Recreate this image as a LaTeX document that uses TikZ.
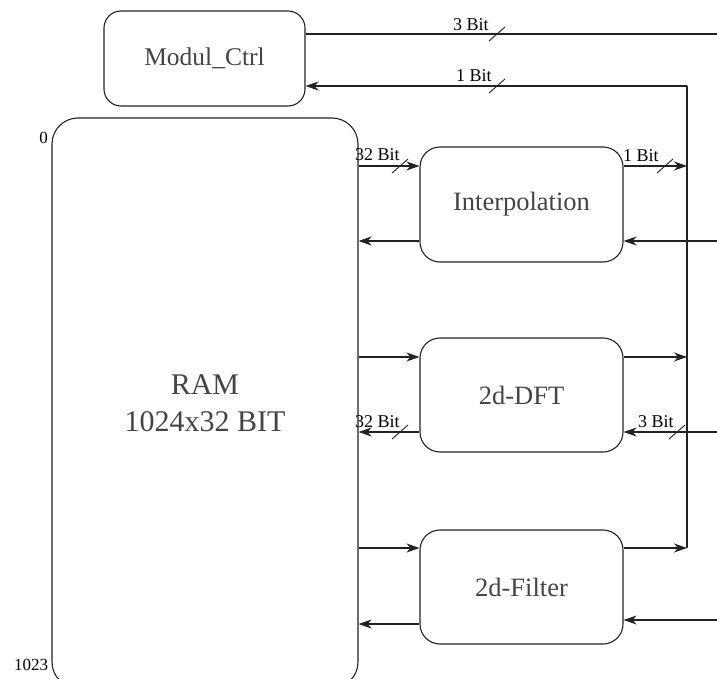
\documentclass[tikz,border=0pt]{standalone}
\usepackage{fontspec}
\setmainfont{Liberation Serif}
\usetikzlibrary{arrows.meta,calc}
\definecolor{ink}{HTML}{222222}
\definecolor{txt}{HTML}{444444}
\begin{document}
\begin{tikzpicture}[x=1pt,y=-1pt,
  wire/.style={draw=ink,line width=1.1pt},
  arr/.style={wire,-{Stealth[length=13pt,width=9pt,inset=4pt]}},
  block/.style={draw=ink,line width=1.1pt,rounded corners=20pt,inner sep=0pt,
    text=txt,font=\fontsize{26.5}{30}\selectfont},
  bits/.style={inner sep=0pt,font=\fontsize{18}{20}\selectfont},
  addr/.style={inner sep=0pt,font=\fontsize{17}{20}\selectfont},
  busmark/.pic={\draw[ink,line width=0.9pt] (-8,7) -- (8,-7);}
]
\useasboundingbox (0,0) rectangle (717,679);
\clip (0,0) rectangle (717,679);

% blocks
\node[block,rounded corners=17pt,minimum width=201pt,minimum height=95pt,
  font=\fontsize{25.5}{30}\selectfont] (ctrl) at (204.5,58.5) {Modul\_Ctrl};
\node[block,rounded corners=26pt,minimum width=306pt,minimum height=570pt,align=center,
  font=\fontsize{30}{37}\selectfont] (ram) at (205,403) {RAM\\1024x32 BIT};
\node[block,minimum width=203pt,minimum height=115pt] (interp) at (521.5,204.5) {Interpolation};
\node[block,minimum width=203pt,minimum height=114pt] (dft) at (521.5,395) {2d-DFT};
\node[block,minimum width=203pt,minimum height=114pt] (filt) at (521.5,587) {2d-Filter};

% address labels of the RAM
\node[addr,anchor=base east] (a0) at (48,144) {0};
\node[addr,anchor=base west] (a1) at (14,670) {1023};

% control lines
\coordinate (ctlout) at (717,34);
\coordinate (bt) at (687,86);
\coordinate (bb) at (687,548);
\draw[wire] (ctrl.east |- ctlout) -- (ctlout);
\draw[wire] (bb) -- (bt);
\draw[arr] (bt) -- (ctrl.east |- bt);

% RAM <-> processing blocks
\draw[arr] (ram.east |- 0,166) -- (interp.west |- 0,166);
\draw[arr] (interp.west |- 0,241) -- (ram.east |- 0,241);
\draw[arr] (ram.east |- 0,357) -- (dft.west |- 0,357);
\draw[arr] (dft.west |- 0,432) -- (ram.east |- 0,432);
\draw[arr] (ram.east |- 0,548) -- (filt.west |- 0,548);
\draw[arr] (filt.west |- 0,624) -- (ram.east |- 0,624);

% status outputs to the bus
\draw[arr] (interp.east |- 0,166) -- (bt |- 0,166);
\draw[arr] (dft.east |- 0,357) -- (bt |- 0,357);
\draw[arr] (filt.east |- 0,548) -- (bb);

% inputs from the right
\coordinate (e1) at (717,241);
\coordinate (e2) at (717,432);
\coordinate (e3) at (717,620);
\draw[arr] (e1) -- (interp.east |- e1);
\draw[arr] (e2) -- (dft.east |- e2);
\draw[arr] (e3) -- (filt.east |- e3);

% bus width marks
\pic at (497,34) {busmark};
\pic at (497,86) {busmark};
\pic at (400,166) {busmark};
\pic at (665,166) {busmark};
\pic at (400,432) {busmark};
\pic at (677,432) {busmark};

\node[bits,anchor=base west] (l1) at (453,31) {3 Bit};
\node[bits,anchor=base west] (l2) at (456,82) {1 Bit};
\node[bits,anchor=base west] (l3) at (355,161) {32 Bit};
\node[bits,anchor=base west] (l4) at (623,162) {1 Bit};
\node[bits,anchor=base west] (l5) at (355,427) {32 Bit};
\node[bits,anchor=base west] (l6) at (638,427) {3 Bit};
\end{tikzpicture}
\end{document}
